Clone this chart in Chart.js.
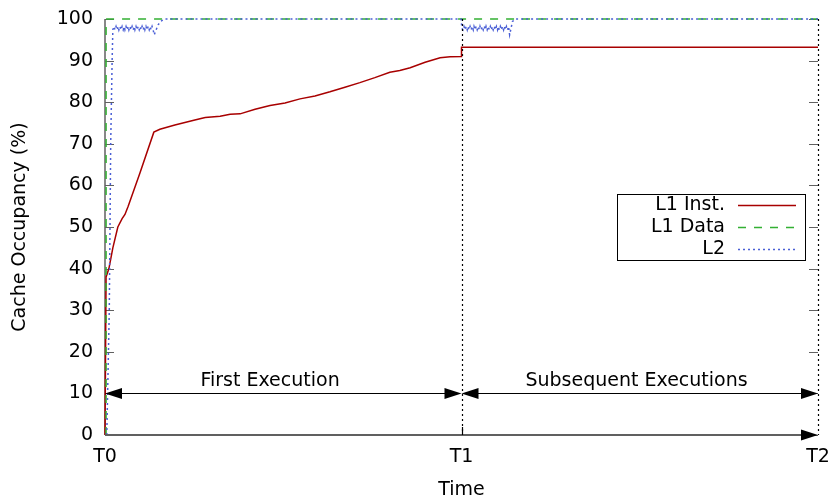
<!DOCTYPE html>
<html lang="en">
<head>
    <meta charset="UTF-8">
    <title>Cache Occupancy</title>
    <script src="https://cdn.jsdelivr.net/npm/chart.js"></script>
    <style>
        body { margin: 0; background: #fff; }
        #wrap { width: 830px; height: 499px; }
    </style>
</head>
<body>
    <div id="wrap"><canvas id="cacheChart" width="830" height="499"></canvas></div>
    <script>
        // x is in "phase" units: T0 = 0, T1 = 1, T2 = 2
        const tickLabels = ['T0', 'T1', 'T2'];
        const yTicks = [0, 10, 20, 30, 40, 50, 60, 70, 80, 90, 100];
        const seriesNames = ['L1 Inst.', 'L1 Data', 'L2'];

        const l1InstX = [0, 0.002, 0.003, 0.011, 0.022, 0.036, 0.048, 0.056, 0.065, 0.098, 0.137, 0.154, 0.196, 0.252,
            0.281, 0.323, 0.351, 0.379, 0.421, 0.463, 0.505, 0.547, 0.589, 0.631, 0.673, 0.715, 0.757, 0.799,
            0.827, 0.856, 0.898, 0.940, 0.968, 1.0, 1.0, 2.0];
        const l1InstY = [0, 0, 38, 40, 45, 50, 52, 53, 55, 63, 72.8, 73.5, 74.5, 75.7,
            76.3, 76.6, 77.1, 77.2, 78.3, 79.2, 79.8, 80.8, 81.5, 82.5, 83.6, 84.7, 85.9, 87.2,
            87.6, 88.3, 89.6, 90.7, 90.9, 91.0, 93.2, 93.2];

        const l1DataX = [0.003, 0.003, 2.0];
        const l1DataY = [0, 100, 100];

        const l2X = [0.005, 0.012, 0.016, 0.020, 0.022, 0.025, 0.028, 0.031, 0.034, 0.037, 0.039, 0.042, 0.045,
            0.048, 0.051, 0.054, 0.056, 0.059, 0.062, 0.065, 0.067, 0.070, 0.073, 0.076, 0.079, 0.082,
            0.084, 0.087, 0.090, 0.093, 0.096, 0.099, 0.101, 0.104, 0.107, 0.110, 0.112, 0.115, 0.118,
            0.121, 0.124, 0.127, 0.129, 0.132, 0.135, 0.138,
            0.149, 0.157, 0.168, 0.999,
            1.001, 1.004, 1.007, 1.010, 1.013, 1.016, 1.018, 1.021, 1.024, 1.027, 1.030, 1.033, 1.035,
            1.038, 1.041, 1.044, 1.047, 1.050, 1.052, 1.055, 1.058, 1.061, 1.064, 1.067, 1.069, 1.072,
            1.075, 1.078, 1.081, 1.084, 1.086, 1.089, 1.092, 1.095, 1.098, 1.101, 1.103, 1.106, 1.109,
            1.112, 1.115, 1.118, 1.120, 1.123, 1.126, 1.129, 1.132, 1.135, 1.143,
            1.151, 2.0];
        const l2Y = [0, 30, 70, 90, 97.4, 98.2, 97.4, 98.2, 97.4, 98.2, 97.4, 98.2, 97.4,
            98.2, 97.4, 98.2, 97.4, 98.2, 97.4, 98.2, 97.4, 98.2, 97.4, 98.2, 97.4, 98.2,
            97.4, 98.2, 97.4, 98.2, 97.4, 98.2, 97.4, 98.2, 97.4, 98.2, 97.4, 98.2, 97.4,
            98.2, 97.4, 98.2, 97.4, 98.2, 97.4, 96.2,
            98.6, 99.5, 100, 100,
            97.8, 97.4, 98.2, 97.4, 98.2, 97.4, 98.2, 97.4, 98.2, 97.4, 98.2, 97.4, 98.2,
            97.4, 98.2, 97.4, 98.2, 97.4, 98.2, 97.4, 98.2, 97.4, 98.2, 97.4, 98.2, 97.4,
            98.2, 97.4, 98.2, 97.4, 98.2, 97.4, 98.2, 97.4, 98.2, 97.4, 98.2, 97.4, 98.2,
            97.4, 98.2, 97.4, 98.2, 97.4, 98.2, 97.4, 98.2, 96.2, 99.4,
            100, 100];

        const phaseLabels = ['First Execution', 'Subsequent Executions'];
        const phaseLabelX = [0.463, 1.491];
        const phaseArrowY = 10;
        const phaseLabelY = 13;

        function toPoints(xs, ys) {
            return xs.map((x, i) => ({ x: x, y: ys[i] }));
        }

        const FONT = '19px "DejaVu Sans"';
        const colors = ['#a80000', '#33b033', '#4a5fd6'];
        const dashes = [[], [8, 8], [2, 3]];

        function arrowHead(ctx, x, y, dir) {
            // dir = 1 points right, -1 points left
            ctx.beginPath();
            ctx.moveTo(x, y);
            ctx.lineTo(x - dir * 17, y - 5.5);
            ctx.lineTo(x - dir * 17, y + 5.5);
            ctx.closePath();
            ctx.fill();
        }

        const decorations = {
            id: 'decorations',
            beforeDatasetsDraw(chart) {
                const { ctx, chartArea: a } = chart;
                const xs = chart.scales.x, ys = chart.scales.y;
                ctx.save();
                // left axis
                ctx.strokeStyle = '#606060';
                ctx.lineWidth = 1.5;
                ctx.beginPath();
                ctx.moveTo(a.left, a.top);
                ctx.lineTo(a.left, a.bottom);
                ctx.stroke();
                // y ticks, inward, mirrored on the right, with labels
                ctx.font = FONT;
                ctx.fillStyle = '#000';
                ctx.textAlign = 'right';
                ctx.textBaseline = 'middle';
                ctx.lineWidth = 1.2;
                yTicks.forEach(v => {
                    const py = Math.round(ys.getPixelForValue(v)) + 0.5;
                    ctx.beginPath();
                    ctx.moveTo(a.left, py);
                    ctx.lineTo(a.left + 9, py);
                    ctx.moveTo(a.right, py);
                    ctx.lineTo(a.right - 9, py);
                    ctx.stroke();
                    ctx.fillText(String(v), a.left - 12, py);
                });
                // x tick labels
                ctx.textAlign = 'center';
                tickLabels.forEach((t, i) => {
                    ctx.fillText(t, xs.getPixelForValue(i), 457);
                });
                ctx.restore();
            },
            afterDatasetsDraw(chart) {
                const { ctx, chartArea: a } = chart;
                const xs = chart.scales.x, ys = chart.scales.y;
                const t0 = xs.getPixelForValue(0), t1 = xs.getPixelForValue(1), t2 = xs.getPixelForValue(2);
                ctx.save();

                // dotted phase boundaries
                ctx.strokeStyle = '#000';
                ctx.lineWidth = 1.2;
                ctx.setLineDash([2, 3]);
                [t1, t2].forEach(px => {
                    ctx.beginPath();
                    ctx.moveTo(Math.round(px) + 0.5, a.top);
                    ctx.lineTo(Math.round(px) + 0.5, a.bottom);
                    ctx.stroke();
                });
                ctx.setLineDash([]);

                // bottom axis with arrow
                ctx.strokeStyle = '#606060';
                ctx.lineWidth = 2;
                ctx.beginPath();
                ctx.moveTo(a.left, a.bottom);
                ctx.lineTo(t2 - 10, a.bottom);
                ctx.stroke();
                ctx.fillStyle = '#000';
                arrowHead(ctx, t2, a.bottom, 1);
                // x tick at T1
                ctx.strokeStyle = '#000';
                ctx.lineWidth = 1.2;
                ctx.beginPath();
                ctx.moveTo(Math.round(t1) + 0.5, a.bottom);
                ctx.lineTo(Math.round(t1) + 0.5, a.bottom - 8);
                ctx.stroke();

                // phase arrows
                const ay = Math.round(ys.getPixelForValue(phaseArrowY)) + 0.5;
                ctx.lineWidth = 1.2;
                ctx.beginPath();
                ctx.moveTo(t0 + 10, ay);
                ctx.lineTo(t1 - 10, ay);
                ctx.moveTo(t1 + 10, ay);
                ctx.lineTo(t2 - 10, ay);
                ctx.stroke();
                arrowHead(ctx, t0, ay, -1);
                arrowHead(ctx, t1, ay, 1);
                arrowHead(ctx, t1, ay, -1);
                arrowHead(ctx, t2, ay, 1);

                ctx.font = FONT;
                ctx.fillStyle = '#000';
                ctx.textAlign = 'center';
                ctx.textBaseline = 'middle';
                phaseLabels.forEach((txt, i) => {
                    ctx.fillText(txt, xs.getPixelForValue(phaseLabelX[i]), ys.getPixelForValue(phaseLabelY));
                });

                // axis titles
                ctx.fillText('Time', (a.left + a.right) / 2, 490);
                ctx.save();
                ctx.translate(20, (a.top + a.bottom) / 2);
                ctx.rotate(-Math.PI / 2);
                ctx.fillText('Cache Occupancy (%)', 0, 0);
                ctx.restore();

                // legend box
                const bx = 617, by = 194, bw = 188, bh = 66;
                ctx.fillStyle = '#fff';
                ctx.fillRect(bx, by, bw, bh);
                ctx.strokeStyle = '#000';
                ctx.lineWidth = 1;
                ctx.strokeRect(bx + 0.5, by + 0.5, bw, bh);
                ctx.textAlign = 'right';
                ctx.fillStyle = '#000';
                const rowY = [205, 227, 249];
                chart.data.datasets.forEach((ds, i) => {
                    ctx.fillText(ds.label, 725, rowY[i]);
                    ctx.strokeStyle = ds.borderColor;
                    ctx.lineWidth = 1.5;
                    ctx.setLineDash(ds.borderDash || []);
                    ctx.beginPath();
                    ctx.moveTo(738, rowY[i] + 0.5);
                    ctx.lineTo(796, rowY[i] + 0.5);
                    ctx.stroke();
                    ctx.setLineDash([]);
                });
                ctx.restore();
            }
        };

        const ctx = document.getElementById('cacheChart').getContext('2d');
        new Chart(ctx, {
            type: 'line',
            data: {
                datasets: [
                    { label: seriesNames[0], data: toPoints(l1InstX, l1InstY), borderColor: colors[0], borderDash: dashes[0], order: 3 },
                    { label: seriesNames[1], data: toPoints(l1DataX, l1DataY), borderColor: colors[1], borderDash: dashes[1], order: 2 },
                    { label: seriesNames[2], data: toPoints(l2X, l2Y), borderColor: colors[2], borderDash: dashes[2], order: 1 }
                ]
            },
            options: {
                responsive: false,
                animation: false,
                clip: false,
                layout: { padding: { top: 19, right: 12, left: 105, bottom: 64 } },
                elements: {
                    point: { radius: 0 },
                    line: { borderWidth: 1.5, tension: 0, fill: false }
                },
                plugins: {
                    legend: { display: false },
                    tooltip: { enabled: false }
                },
                scales: {
                    x: {
                        type: 'linear',
                        min: 0,
                        max: 2,
                        grid: { display: false, drawTicks: false },
                        border: { display: false },
                        ticks: { display: false },
                        afterFit: s => { s.height = 0; }
                    },
                    y: {
                        min: 0,
                        max: 100,
                        grid: { display: false, drawTicks: false },
                        border: { display: false },
                        ticks: { display: false },
                        afterFit: s => { s.width = 0; }
                    }
                }
            },
            plugins: [decorations]
        });
    </script>
</body>
</html>
